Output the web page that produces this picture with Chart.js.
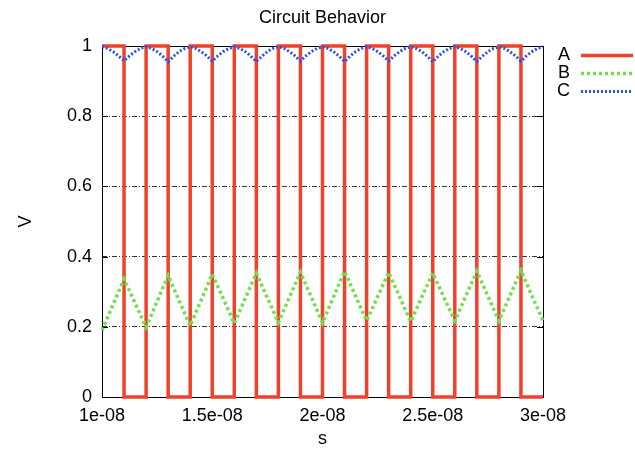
<!DOCTYPE html>
<html>
<head>
<meta charset="utf-8">
<script src="https://cdn.jsdelivr.net/npm/chart.js@4.4.0/dist/chart.umd.min.js"></script>
<style>
  html, body { margin: 0; padding: 0; background: #fff; }
</style>
</head>
<body>
<canvas id="circuit" width="635" height="451"></canvas>
<script>
// axis labels
const xTickLabels = ["1e-08", "1.5e-08", "2e-08", "2.5e-08", "3e-08"];
const yTickLabels = ["0", "0.2", "0.4", "0.6", "0.8", "1"];
const seriesNames = ["A", "B", "C"];

// A: square wave, edges every 1 ns
const aTime = [1.0e-8, 1.1e-8, 1.1e-8, 1.2e-8, 1.2e-8, 1.3e-8, 1.3e-8, 1.4e-8, 1.4e-8, 1.5e-8, 1.5e-8,
  1.6e-8, 1.6e-8, 1.7e-8, 1.7e-8, 1.8e-8, 1.8e-8, 1.9e-8, 1.9e-8, 2.0e-8, 2.0e-8,
  2.1e-8, 2.1e-8, 2.2e-8, 2.2e-8, 2.3e-8, 2.3e-8, 2.4e-8, 2.4e-8, 2.5e-8, 2.5e-8,
  2.6e-8, 2.6e-8, 2.7e-8, 2.7e-8, 2.8e-8, 2.8e-8, 2.9e-8, 2.9e-8, 3.0e-8];
const aLevel = [1, 1, 0, 0, 1, 1, 0, 0, 1, 1, 0,
  0, 1, 1, 0, 0, 1, 1, 0, 0, 1,
  1, 0, 0, 1, 1, 0, 0, 1, 1, 0,
  0, 1, 1, 0, 0, 1, 1, 0, 0];

// B: triangle ripple
const bTime = [1.0e-8, 1.1e-8, 1.2e-8, 1.3e-8, 1.4e-8, 1.5e-8, 1.6e-8, 1.7e-8, 1.8e-8, 1.9e-8, 2.0e-8,
  2.1e-8, 2.2e-8, 2.3e-8, 2.4e-8, 2.5e-8, 2.6e-8, 2.7e-8, 2.8e-8, 2.9e-8, 3.0e-8];
const bLevel = [0.19, 0.336, 0.199, 0.346, 0.203, 0.35, 0.21, 0.353, 0.212, 0.356, 0.212,
  0.358, 0.217, 0.355, 0.215, 0.353, 0.217, 0.358, 0.217, 0.36, 0.217];

// C: near 1 with dips at the falling edges of A
const cTime = [1.000e-8, 1.025e-8, 1.050e-8, 1.075e-8, 1.100e-8, 1.125e-8, 1.150e-8, 1.175e-8,
  1.200e-8, 1.225e-8, 1.250e-8, 1.275e-8, 1.300e-8, 1.325e-8, 1.350e-8, 1.375e-8,
  1.400e-8, 1.425e-8, 1.450e-8, 1.475e-8, 1.500e-8, 1.525e-8, 1.550e-8, 1.575e-8,
  1.600e-8, 1.625e-8, 1.650e-8, 1.675e-8, 1.700e-8, 1.725e-8, 1.750e-8, 1.775e-8,
  1.800e-8, 1.825e-8, 1.850e-8, 1.875e-8, 1.900e-8, 1.925e-8, 1.950e-8, 1.975e-8,
  2.000e-8, 2.025e-8, 2.050e-8, 2.075e-8, 2.100e-8, 2.125e-8, 2.150e-8, 2.175e-8,
  2.200e-8, 2.225e-8, 2.250e-8, 2.275e-8, 2.300e-8, 2.325e-8, 2.350e-8, 2.375e-8,
  2.400e-8, 2.425e-8, 2.450e-8, 2.475e-8, 2.500e-8, 2.525e-8, 2.550e-8, 2.575e-8,
  2.600e-8, 2.625e-8, 2.650e-8, 2.675e-8, 2.700e-8, 2.725e-8, 2.750e-8, 2.775e-8,
  2.800e-8, 2.825e-8, 2.850e-8, 2.875e-8, 2.900e-8, 2.925e-8, 2.950e-8, 2.975e-8,
  3.000e-8];
const cLevel = [0.998, 0.993, 0.984, 0.972, 0.958, 0.972, 0.984, 0.993,
  0.998, 0.993, 0.984, 0.971, 0.955, 0.971, 0.984, 0.993,
  0.998, 0.993, 0.984, 0.972, 0.957, 0.972, 0.984, 0.993,
  0.998, 0.993, 0.984, 0.971, 0.956, 0.971, 0.984, 0.993,
  0.998, 0.993, 0.984, 0.972, 0.957, 0.972, 0.984, 0.993,
  0.998, 0.993, 0.984, 0.971, 0.956, 0.971, 0.984, 0.993,
  0.998, 0.993, 0.984, 0.972, 0.957, 0.972, 0.984, 0.993,
  0.998, 0.993, 0.984, 0.971, 0.955, 0.971, 0.984, 0.993,
  0.998, 0.993, 0.984, 0.971, 0.956, 0.971, 0.984, 0.993,
  0.998, 0.993, 0.984, 0.972, 0.957, 0.972, 0.984, 0.993,
  0.998];

const toPoints = (xs, ys) => xs.map((x, i) => ({ x: x, y: ys[i] }));

const FONT = "'Liberation Sans', Arial, sans-serif";

// box + inward ticks like gnuplot, and the legend on the right
const framePlugin = {
  id: 'frame',
  beforeDatasetsDraw(chart) {
    const { ctx, chartArea: a, scales } = chart;
    ctx.save();
    ctx.strokeStyle = '#000';
    ctx.lineWidth = 1;
    ctx.strokeRect(a.left + 0.5, a.top + 0.5, a.right - a.left, a.bottom - a.top);
    ctx.beginPath();
    scales.y.ticks.forEach(t => {
      const py = Math.round(scales.y.getPixelForValue(t.value)) + 0.5;
      ctx.moveTo(a.left, py); ctx.lineTo(a.left + 6, py);
      ctx.moveTo(a.right, py); ctx.lineTo(a.right - 6, py);
    });
    scales.x.ticks.forEach(t => {
      const px = Math.round(scales.x.getPixelForValue(t.value)) + 0.5;
      ctx.moveTo(px, a.bottom); ctx.lineTo(px, a.bottom - 6);
      ctx.moveTo(px, a.top); ctx.lineTo(px, a.top + 6);
    });
    ctx.stroke();
    ctx.restore();
  },
  afterDraw(chart) {
    const ctx = chart.ctx;
    ctx.save();
    ctx.font = '18px ' + FONT;
    ctx.textAlign = 'right';
    ctx.textBaseline = 'middle';
    chart.data.datasets.forEach((ds, i) => {
      const y = 55 + i * 18;
      ctx.fillStyle = '#000';
      ctx.fillText(ds.label, 570, y);
      ctx.beginPath();
      ctx.strokeStyle = ds.borderColor;
      ctx.lineWidth = ds.borderWidth;
      ctx.setLineDash(ds.borderDash || []);
      ctx.moveTo(581, y + 0.5);
      ctx.lineTo(633, y + 0.5);
      ctx.stroke();
    });
    ctx.restore();
  }
};

new Chart(document.getElementById('circuit'), {
  type: 'scatter',
  data: {
    datasets: [
      {
        label: seriesNames[0],
        data: toPoints(aTime, aLevel),
        showLine: true,
        borderColor: '#f0412b',
        borderWidth: 3.5,
        pointRadius: 0,
        order: 3,
        clip: 5
      },
      {
        label: seriesNames[1],
        data: toPoints(bTime, bLevel),
        showLine: true,
        borderColor: '#6ee04a',
        borderWidth: 3.5,
        borderDash: [3, 3],
        pointRadius: 0,
        order: 2,
        clip: 5
      },
      {
        label: seriesNames[2],
        data: toPoints(cTime, cLevel),
        showLine: true,
        borderColor: '#2355ea',
        borderWidth: 3,
        borderDash: [2, 2],
        pointRadius: 0,
        order: 1,
        clip: 5
      }
    ]
  },
  options: {
    responsive: false,
    animation: false,
    events: [],
    layout: { padding: { left: 0, right: 92, top: 0, bottom: 0 } },
    plugins: {
      legend: { display: false },
      tooltip: { enabled: false },
      title: {
        display: true,
        text: 'Circuit Behavior',
        fullSize: false,
        color: '#000',
        font: { family: FONT, size: 18, weight: 'normal' },
        padding: { top: 7, bottom: 17.4 }
      }
    },
    scales: {
      x: {
        type: 'linear',
        min: 1e-8,
        max: 3e-8,
        afterFit(scale) { scale.height = 54; },
        grid: { display: false, drawTicks: false },
        border: { display: false },
        ticks: {
          stepSize: 5e-9,
          padding: 8,
          maxRotation: 0,
          color: '#000',
          font: { family: FONT, size: 18 },
          callback: (v, i) => xTickLabels[i]
        },
        title: {
          display: true,
          text: 's',
          color: '#000',
          font: { family: FONT, size: 18 },
          padding: { top: 0, bottom: 1 }
        }
      },
      y: {
        min: 0,
        max: 1,
        afterFit(scale) { scale.width = 102; },
        grid: {
          drawTicks: false,
          lineWidth: 1,
          color: c => (c.tick && (c.tick.value <= 0 || c.tick.value >= 1)) ? 'rgba(0,0,0,0)' : '#333'
        },
        border: { display: false, dash: [5, 2, 1, 2] },
        ticks: {
          stepSize: 0.2,
          padding: 10,
          color: '#000',
          font: { family: FONT, size: 18 },
          callback: (v, i) => yTickLabels[i]
        },
        title: {
          display: true,
          text: 'V',
          color: '#000',
          font: { family: FONT, size: 18 },
          padding: { top: 15, bottom: 0 }
        }
      }
    }
  },
  plugins: [framePlugin]
});
</script>
</body>
</html>
